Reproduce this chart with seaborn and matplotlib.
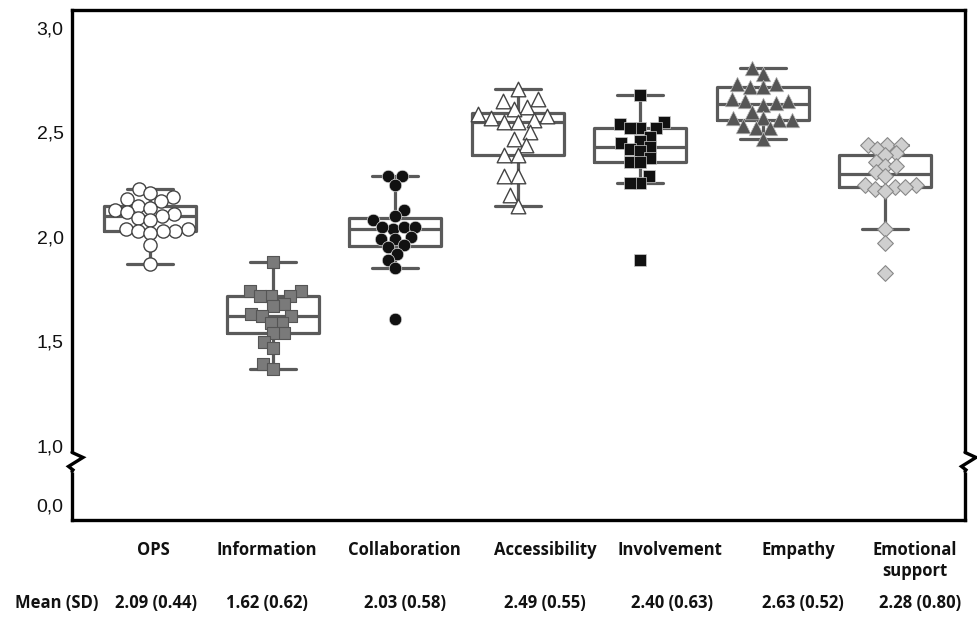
import numpy as np
import pandas as pd
import matplotlib
matplotlib.use("Agg")
import matplotlib.pyplot as plt
import matplotlib.transforms as mtransforms
import seaborn as sns


categories = ["OPS", "Information", "Collaboration", "Accessibility",
              "Involvement", "Empathy", "Emotional support"]
category_labels = ["OPS", "Information", "Collaboration", "Accessibility",
                   "Involvement", "Empathy", "Emotional\nsupport"]

ops = [2.23, 2.21, 2.19, 2.18, 2.17, 2.15, 2.14, 2.13, 2.12, 2.11, 2.10,
       2.09, 2.08, 2.04, 2.04, 2.03, 2.03, 2.03, 2.02, 1.96, 1.87]
information = [1.88, 1.74, 1.74, 1.72, 1.72, 1.72, 1.68, 1.67, 1.63, 1.62,
               1.62, 1.59, 1.59, 1.54, 1.54, 1.50, 1.47, 1.39, 1.37]
collaboration = [2.29, 2.29, 2.25, 2.13, 2.08, 2.10, 2.04, 2.05, 2.05, 2.05,
                 1.99, 1.99, 2.00, 1.95, 1.96, 1.92, 1.89, 1.85, 1.61]
accessibility = [2.71, 2.66, 2.65, 2.62, 2.61, 2.59, 2.58, 2.57, 2.56, 2.55,
                 2.55, 2.50, 2.47, 2.44, 2.39, 2.39, 2.29, 2.29, 2.20, 2.15]
involvement = [2.68, 2.55, 2.54, 2.52, 2.52, 2.52, 2.48, 2.46, 2.45, 2.43,
               2.42, 2.41, 2.38, 2.36, 2.36, 2.29, 2.26, 2.26, 1.89]
empathy = [2.81, 2.78, 2.73, 2.72, 2.73, 2.72, 2.66, 2.65, 2.65, 2.64,
           2.63, 2.60, 2.57, 2.57, 2.56, 2.56, 2.53, 2.52, 2.52, 2.47]
emotional_support = [2.44, 2.44, 2.44, 2.42, 2.40, 2.39, 2.36, 2.34, 2.34,
                     2.31, 2.29, 2.25, 2.25, 2.24, 2.24, 2.23, 2.22, 2.04,
                     1.97, 1.83]

mean_sd = ["2.09 (0.44)", "1.62 (0.62)", "2.03 (0.58)", "2.49 (0.55)",
           "2.40 (0.63)", "2.63 (0.52)", "2.28 (0.80)"]

y_ticks = [0.0, 1.0, 1.5, 2.0, 2.5, 3.0]
y_tick_labels = ["0,0", "1,0", "1,5", "2,0", "2,5", "3,0"]

scores = [ops, information, collaboration, accessibility, involvement,
          empathy, emotional_support]
df = pd.DataFrame({
    "domain": np.repeat(categories, [len(s) for s in scores]),
    "score": np.concatenate(scores),
})

# marker look per domain (size = drawn size; swarm is packed tighter so markers overlap)
MARKERS = {
    "OPS": dict(marker="o", color="white", edgecolor="#444444", linewidth=1.0, size=9.5),
    "Information": dict(marker="s", color="#7a7a7a", edgecolor="#555555", linewidth=0.8, size=8.5),
    "Collaboration": dict(marker="o", color="#111111", edgecolor="#dddddd", linewidth=0.5, size=9),
    "Accessibility": dict(marker="^", color="white", edgecolor="#444444", linewidth=1.0, size=10.5),
    "Involvement": dict(marker="s", color="#111111", edgecolor="#cccccc", linewidth=0.5, size=8.5),
    "Empathy": dict(marker="^", color="#555555", edgecolor="#bbbbbb", linewidth=0.5, size=10.5),
    "Emotional support": dict(marker="D", color="#cfcfcf", edgecolor="#888888", linewidth=0.8, size=8),
}
PACK = 0.8

# label centres along the bottom rows (pixels)
label_x_px = [153, 267, 404, 545, 670, 798, 915]
mean_x_px = [156, 267, 405, 545, 672, 803, 920]

W, H = 977, 619
sns.set_style("white")
plt.rcParams["font.family"] = ["Liberation Sans", "DejaVu Sans"]

fig = plt.figure(figsize=(W / 100, H / 100), dpi=100)
ax = fig.add_axes([72 / W, 1 - 520 / H, (965 - 72) / W, (520 - 10) / H])

sns.boxplot(data=df, x="domain", y="score", order=categories, fill=False,
            color="#5a5a5a", linewidth=2.3, width=0.75, showfliers=False, ax=ax)

swarms = []
for cat, vals in zip(categories, scores):
    style = dict(MARKERS[cat])
    full = style.pop("size")
    n_before = len(ax.collections)
    sns.swarmplot(x=[cat] * len(vals), y=vals, order=categories, ax=ax,
                  zorder=3, size=full * PACK, **style)
    for coll in ax.collections[n_before:]:
        swarms.append((coll, full))

# broken y axis: compress the 0-1 range
SQUEEZE = 59 / 209


def fwd(y):
    y = np.asarray(y, dtype=float)
    return np.where(y >= 1, y, 1 - (1 - y) * SQUEEZE)


def inv(y):
    y = np.asarray(y, dtype=float)
    return np.where(y >= 1, y, 1 - (1 - y) / SQUEEZE)


ax.set_yscale("function", functions=(fwd, inv))
ax.set_ylim(-0.254, 3.086)
ax.set_xlim(-0.639, 6.651)
ax.set_yticks(y_ticks)
ax.set_yticklabels(y_tick_labels)
ax.yaxis.set_minor_locator(matplotlib.ticker.NullLocator())
ax.set_xticks([])
ax.set_xlabel("")
ax.set_ylabel("")
ax.tick_params(axis="y", direction="in", length=12, width=2.2,
               labelsize=14, pad=6, colors="#111111")
for sp in ax.spines.values():
    sp.set_visible(True)
    sp.set_color("black")
    sp.set_linewidth(2.4)

# lay out the swarms with small markers, then freeze them and enlarge
fig.canvas.draw()
for coll, full in swarms:
    if "draw" in coll.__dict__:
        del coll.draw
    coll.set_sizes([full ** 2])

# zigzag break marks on both vertical spines
zig = np.array([(0, 9.5), (11, 4.5), (-3.5, -4.5), (1, -8), (0, -9.5)]) / 100
blend = mtransforms.blended_transform_factory(ax.transAxes, ax.transData)
for xa in (0, 1):
    tr = fig.dpi_scale_trans + mtransforms.ScaledTranslation(xa, 0.73, blend)
    ax.plot([0, 0], [0.1, -0.1], color="white", lw=5, transform=tr,
            clip_on=False, zorder=5, solid_capstyle="butt")
    ax.plot(zig[:, 0], zig[:, 1], color="black", lw=2.4, transform=tr,
            clip_on=False, zorder=6, solid_joinstyle="miter")

bold_font = dict(family=["Open Sans", "DejaVu Sans"], fontweight="bold",
                 fontsize=12, color="#111111")
for xp, lab in zip(label_x_px, category_labels):
    fig.text(xp / W, 1 - 541 / H, lab, ha="center", va="top",
             linespacing=1.25, **bold_font)
fig.text(15 / W, 1 - 603 / H, "Mean (SD)", ha="left", va="center", **bold_font)
for xp, txt in zip(mean_x_px, mean_sd):
    fig.text(xp / W, 1 - 603 / H, txt, ha="center", va="center", **bold_font)

fig.savefig("out.png", dpi=100)
